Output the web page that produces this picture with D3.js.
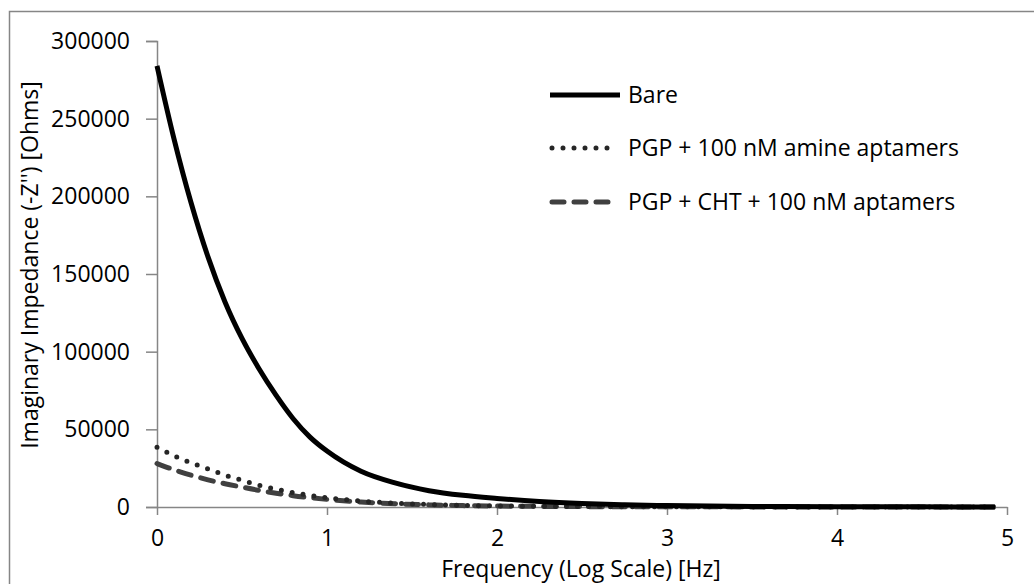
<!DOCTYPE html>
<html>
<head>
<meta charset="utf-8">
<script src="https://cdn.jsdelivr.net/npm/d3@7"></script>
<style>
  body { margin: 0; background: #fff; }
  text { font-family: "Open Sans", sans-serif; fill: #000; }
</style>
</head>
<body>
<div id="chart"></div>
<script>
// chart data
var logFreq  = [0, 0.1, 0.2, 0.3, 0.4, 0.5, 0.6, 0.7, 0.8, 0.9, 1.0, 1.2, 1.4, 1.6, 1.8, 2.0, 2.25, 2.5, 2.75, 3.0, 3.5, 4.0, 4.5, 4.93];
var bare     = [284000, 237000, 196000, 161000, 132000, 108500, 89000, 72000, 57000, 45000, 36000, 23000, 15500, 10500, 7500, 5500, 3500, 2200, 1400, 900, 400, 200, 100, 50];
var pgpAmine = [38500, 33000, 28500, 24500, 20500, 17200, 14000, 11500, 9300, 7500, 6000, 3800, 2500, 1600, 1000, 700, 450, 300, 200, 150, 80, 50, 30, 20];
var pgpCht   = [28000, 24000, 20500, 17500, 15000, 12800, 10700, 8900, 7300, 6000, 4900, 3200, 2100, 1400, 900, 600, 400, 250, 170, 120, 70, 40, 25, 15];
var seriesNames = ["Bare", "PGP + 100 nM amine aptamers", "PGP + CHT + 100 nM aptamers"];
var yTicks = [0, 50000, 100000, 150000, 200000, 250000, 300000];
var xTicks = [0, 1, 2, 3, 4, 5];

var width = 1034, height = 584;
var axis_color = "#868686";
var font_size = 23;

var svg = d3.select("#chart").append("svg")
    .attr("width", width)
    .attr("height", height);

// outer chart border
svg.append("rect")
    .attr("x", 9.5).attr("y", 11.5)
    .attr("width", 1040).attr("height", 590)
    .attr("fill", "none")
    .attr("stroke", axis_color)
    .attr("stroke-width", 1.5);

var x = d3.scaleLinear().domain([0, 5]).range([157, 1007]);
var y = d3.scaleLinear().domain([0, 300000]).range([507, 41]);

// y axis
var yAxis = svg.append("g")
    .attr("transform", "translate(157,0)")
    .call(d3.axisLeft(y).tickValues(yTicks).tickSize(11).tickPadding(16).tickFormat(d3.format("d")));
yAxis.select(".domain").attr("stroke", axis_color).attr("stroke-width", 1.5);
yAxis.selectAll(".tick line").attr("stroke", axis_color).attr("stroke-width", 1.5);
yAxis.selectAll(".tick text")
    .attr("font-size", font_size)
    .attr("font-family", "Open Sans")
    .attr("fill", "#000");

// x axis
var xAxis = svg.append("g")
    .attr("transform", "translate(0,507)")
    .call(d3.axisBottom(x).tickValues(xTicks).tickSize(8).tickSizeOuter(0).tickPadding(15).tickFormat(d3.format("d")));
xAxis.select(".domain").attr("stroke", axis_color).attr("stroke-width", 1.5);
xAxis.selectAll(".tick line").attr("stroke", axis_color).attr("stroke-width", 1.5);
xAxis.selectAll(".tick text")
    .attr("font-size", font_size)
    .attr("font-family", "Open Sans")
    .attr("fill", "#000");

// axis titles
svg.append("text")
    .attr("x", 581).attr("y", 577)
    .attr("text-anchor", "middle")
    .attr("font-size", font_size)
    .text("Frequency (Log Scale) [Hz]");

svg.append("text")
    .attr("transform", "translate(38,265) rotate(-90)")
    .attr("text-anchor", "middle")
    .attr("font-size", font_size)
    .text("Imaginary Impedance (-Z'') [Ohms]");

// series
var styles = [
    { values: bare,     color: "#000000", width: 5,   dash: null,    cap: "butt"  },
    { values: pgpAmine, color: "#262626", width: 5,   dash: "0,11",  cap: "round" },
    { values: pgpCht,   color: "#404040", width: 5,   dash: "13,10", cap: "round" }
];

var line = d3.line()
    .x(function(d) { return x(d[0]); })
    .y(function(d) { return y(d[1]); })
    .curve(d3.curveMonotoneX);

// draw in reverse so Bare sits on top
styles.slice().reverse().forEach(function(s) {
    var pts = logFreq.map(function(f, i) { return [f, s.values[i]]; });
    svg.append("path")
        .datum(pts)
        .attr("d", line)
        .attr("fill", "none")
        .attr("stroke", s.color)
        .attr("stroke-width", s.width)
        .attr("stroke-linecap", s.cap)
        .attr("stroke-linejoin", "round")
        .attr("stroke-dasharray", s.dash);
});

// legend
var legendY = [95, 148, 202];
var legend = svg.append("g");
styles.forEach(function(s, i) {
    legend.append("line")
        .attr("x1", i == 0 ? 550 : 552).attr("x2", i == 0 ? 620 : 612)
        .attr("y1", legendY[i]).attr("y2", legendY[i])
        .attr("stroke", s.color)
        .attr("stroke-width", s.width)
        .attr("stroke-linecap", s.cap)
        .attr("stroke-dasharray", i == 2 ? "12,10" : s.dash);
    legend.append("text")
        .attr("x", 628).attr("y", legendY[i])
        .attr("dy", "0.35em")
        .attr("font-size", font_size)
        .text(seriesNames[i]);
});
</script>
</body>
</html>
